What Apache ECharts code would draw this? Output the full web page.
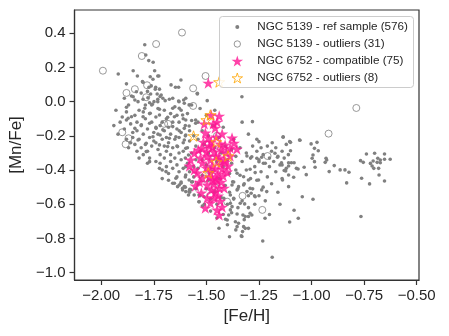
<!DOCTYPE html>
<html>
<head>
<meta charset="utf-8">
<script src="https://cdn.jsdelivr.net/npm/echarts@6/dist/echarts.min.js"></script>
<style>html,body{margin:0;padding:0;background:#fff}#c{width:449px;height:336px}</style>
</head>
<body>
<div id="c"></div>
<script>
// ---- data ([Fe/H], [Mn/Fe]) ----
const legendNames = ['NGC 5139 - ref sample (576)', 'NGC 5139 - outliers (31)', 'NGC 6752 - compatible (75)', 'NGC 6752 - outliers (8)'];
const xTicks = [-2.0, -1.75, -1.5, -1.25, -1.0, -0.75, -0.5];
const yTicks = [-1.0, -0.8, -0.6, -0.4, -0.2, 0.0, 0.2, 0.4];

const refSample = [
[-1.793,0.333],[-1.788,0.273],[-1.774,0.240],[-1.753,0.230],[-1.919,0.162],[-1.848,0.181],[-1.828,0.150],[-1.746,0.181],[-1.731,0.150],[-1.801,0.113],[-1.754,0.131],[-1.880,0.104],[-1.762,0.092],[-1.743,0.073],[-1.856,0.033],[-1.825,0.000],[-1.765,0.045],[-1.734,0.045],[-1.715,0.039],[-1.770,-0.006],[-1.749,0.000],[-1.731,0.000],[-1.696,0.006],[-1.880,-0.033],
[-1.804,0.117],[-1.767,0.146],[-1.726,0.150],[-1.773,0.084],[-1.741,0.084],[-1.723,0.073],[-1.668,0.098],[-1.647,0.084],[-1.632,0.084],[-1.621,0.127],[-1.543,0.049],[-1.496,0.006],[-1.848,0.029],[-1.833,0.058],[-1.801,0.014],[-1.778,0.023],[-1.757,-0.015],[-1.731,0.014],[-1.707,0.020],[-1.676,0.014],[-1.632,0.004],[-1.605,-0.009],[-1.793,-0.039],[-1.723,-0.044],[-1.660,-0.039],[-1.629,-0.039],[-1.872,-0.097],[-1.856,-0.088],[-1.880,-0.107],[-1.801,-0.088],[-1.767,-0.068],[-1.723,-0.078],[-1.684,-0.091],[-1.652,-0.088],[-1.613,-0.078],[-1.598,-0.107],[-1.582,-0.142],[-1.551,-0.126],[-1.840,-0.156],[-1.809,-0.136],[-1.770,-0.126],[-1.739,-0.156],[-1.707,-0.165],[-1.660,-0.146],[-1.629,-0.170],[-1.605,-0.156],[-1.754,-0.205],[-1.720,-0.195],[-1.676,-0.214],[-1.645,-0.205],[-1.598,-0.195],[-1.825,-0.224],[-1.786,-0.243],[-1.723,-0.253],[-1.684,-0.263],[-1.637,-0.263],
[-1.331,0.029],[-1.608,0.010],[-1.582,-0.019],[-1.543,0.045],[-1.598,0.020],[-1.551,-0.107],[-1.605,-0.224],[-1.598,-0.273],[-1.585,-0.312],[-1.598,-0.380],[-1.598,-0.429],[-1.582,-0.458],[-1.605,-0.497],[-1.574,-0.516],[-1.535,-0.546],
[-1.786,-0.292],[-1.770,-0.351],[-1.723,-0.390],[-1.692,-0.409],[-1.645,-0.448],[-1.613,-0.506],[-1.582,-0.526],[-1.558,-0.546],[-1.535,-0.585],[-1.519,-0.610],[-1.660,-0.477],[-1.629,-0.487],[-1.652,-0.477],[-1.637,-0.497],[-1.613,-0.516],[-1.598,-0.526],[-1.585,-0.546],[-1.579,-0.512],[-1.621,-0.477],[-1.566,-0.468],
[-1.281,-0.117],[-1.135,-0.208],[-1.250,-0.234],[-1.187,-0.240],[-1.104,-0.234],[-1.057,-0.224],[-1.307,-0.318],[-1.284,-0.322],[-1.260,-0.331],[-1.237,-0.325],[-1.250,-0.351],[-1.229,-0.360],[-1.174,-0.302],[-1.162,-0.325],[-1.143,-0.357],[-1.109,-0.376],[-1.096,-0.357],[-1.130,-0.403],[-1.072,-0.390],[-1.292,-0.395],[-1.268,-0.415],[-1.354,-0.419],[-1.323,-0.439],[-1.300,-0.458],[-1.252,-0.458],[-1.378,-0.487],[-1.347,-0.497],[-1.271,-0.551],[-1.417,-0.565],[-1.386,-0.633],[-1.354,-0.657],[-1.326,-0.663],[-1.300,-0.672],[-1.347,-0.711],[-1.323,-0.731],[-1.334,-0.785],
[-1.375,-0.468],[-1.323,-0.487],[-1.307,-0.526],[-1.287,-0.536],[-1.268,-0.556],[-1.237,-0.516],[-1.213,-0.526],[-1.354,-0.516],[-1.370,-0.565],[-1.339,-0.594],[-1.318,-0.598],[-1.386,-0.594],[-1.378,-0.614],[-1.292,-0.653],[-1.284,-0.663],[-1.315,-0.672],[-1.394,-0.663],[-1.409,-0.688],[-1.362,-0.702],[-1.401,-0.692],[-1.221,-0.682],[-1.354,-0.731],[-1.315,-0.741],[-1.300,-0.741],[-1.328,-0.760],[-1.331,-0.789],[-1.232,-0.815],[-1.187,-0.910],[-1.535,-0.585],[-1.511,-0.556],[-1.386,-0.546],[-1.292,-0.507],
[-1.135,-0.205],[-1.100,-0.238],[-1.055,-0.226],[-1.002,-0.247],[-0.974,-0.238],[-0.986,-0.273],[-0.968,-0.287],[-0.993,-0.312],[-0.997,-0.331],[-0.986,-0.351],[-0.983,-0.384],[-0.931,-0.331],[-0.935,-0.355],[-0.928,-0.341],[-0.892,-0.374],[-0.916,-0.409],[-0.864,-0.399],[-0.841,-0.399],[-0.822,-0.413],[-0.833,-0.475],[-1.100,-0.287],[-1.140,-0.370],[-1.109,-0.357],[-1.083,-0.357],[-1.123,-0.405],[-1.109,-0.429],[-1.085,-0.442],[-1.064,-0.394],[-1.035,-0.384],[-1.025,-0.427],[-1.138,-0.458],[-1.109,-0.497],[-1.044,-0.556],[-0.993,-0.571],[-1.083,-0.635],[-1.063,-0.682],[-1.104,-0.704],[-0.765,-0.672],
[-0.739,-0.306],[-0.700,-0.302],[-0.653,-0.306],[-0.767,-0.345],[-0.754,-0.355],[-0.720,-0.361],[-0.707,-0.347],[-0.685,-0.331],[-0.673,-0.341],[-0.688,-0.355],[-0.673,-0.357],[-0.653,-0.337],[-0.626,-0.337],[-0.712,-0.376],[-0.704,-0.390],[-0.681,-0.390],[-0.762,-0.448],[-0.679,-0.429],[-0.724,-0.481],[-0.653,-0.464],
[-1.93,-0.05],[-1.91,-0.12],[-1.89,-0.16],[-1.92,-0.19],[-1.88,-0.22],[-1.86,-0.24],[-1.90,-0.09],[-1.87,-0.02],[-1.86,-0.13],[-1.88,-0.06],[-1.85,-0.18],[-1.94,-0.14],[-1.87,-0.27],[-1.85,-0.21],[-1.89,0.02],
[-1.84,-0.08],[-1.83,-0.17],[-1.82,-0.22],[-1.81,-0.27],[-1.80,-0.31],[-1.83,-0.12],[-1.82,-0.05],[-1.81,-0.14],[-1.80,-0.19],[-1.79,-0.25],[-1.78,-0.29],[-1.77,-0.33],[-1.84,-0.25],[-1.83,-0.29],[-1.79,-0.10],[-1.78,-0.16],[-1.77,-0.21],[-1.76,-0.26],[-1.80,-0.06],[-1.76,-0.12],[-1.78,-0.36],[-1.82,-0.33],[-1.76,-0.02],[-1.81,0.05],[-1.79,-0.02],[-1.77,-0.07],[-1.75,-0.18],[-1.75,-0.23],[-1.84,0.01],[-1.78,0.06],
[-1.74,-0.09],[-1.74,-0.15],[-1.73,-0.19],[-1.73,-0.28],[-1.72,-0.31],[-1.72,-0.36],[-1.71,-0.12],[-1.71,-0.22],[-1.71,-0.40],[-1.70,-0.05],[-1.70,-0.17],[-1.70,-0.26],[-1.70,-0.33],[-1.69,-0.10],[-1.69,-0.21],[-1.69,-0.29],[-1.69,-0.38],[-1.68,-0.15],[-1.68,-0.24],[-1.68,-0.42],[-1.67,-0.07],[-1.67,-0.19],[-1.67,-0.31],[-1.67,-0.35],[-1.66,-0.12],[-1.66,-0.27],[-1.66,-0.39],[-1.65,-0.03],[-1.65,-0.22],[-1.65,-0.33],[-1.74,-0.24],[-1.73,-0.04],[-1.72,-0.14],[-1.72,0.03],[-1.66,0.02],[-1.71,-0.45],[-1.74,-0.35],[-1.68,-0.46],
[-1.64,-0.08],[-1.64,-0.16],[-1.64,-0.26],[-1.64,-0.37],[-1.64,-0.44],[-1.63,-0.12],[-1.63,-0.21],[-1.63,-0.30],[-1.63,-0.41],[-1.62,-0.05],[-1.62,-0.18],[-1.62,-0.34],[-1.62,-0.47],[-1.61,-0.10],[-1.61,-0.24],[-1.61,-0.29],[-1.61,-0.39],[-1.60,-0.14],[-1.60,-0.20],[-1.60,-0.33],[-1.60,-0.44],[-1.60,-0.50],[-1.59,-0.07],[-1.59,-0.27],[-1.59,-0.36],[-1.58,-0.17],[-1.58,-0.23],[-1.58,-0.41],[-1.58,-0.53],[-1.57,-0.11],[-1.57,-0.30],[-1.57,-0.47],[-1.56,-0.20],[-1.56,-0.38],[-1.56,-0.44],[-1.55,-0.26],[-1.55,-0.34],[-1.55,-0.51],[-1.63,0.00],[-1.57,-0.02],
[-1.54,-0.12],[-1.54,-0.22],[-1.54,-0.39],[-1.54,-0.48],[-1.53,-0.29],[-1.53,-0.55],[-1.52,-0.17],[-1.52,-0.34],[-1.52,-0.43],[-1.51,-0.25],[-1.51,-0.60],[-1.50,-0.08],[-1.50,-0.37],[-1.50,-0.51],[-1.49,-0.20],[-1.49,-0.30],[-1.49,-0.46],[-1.48,-0.57],[-1.48,-0.64],[-1.47,-0.14],[-1.47,-0.41],[-1.46,-0.27],[-1.46,-0.53],[-1.45,-0.35],[-1.45,-0.60],[-1.45,-0.68],[-1.53,-0.04],[-1.46,-0.05],
[-1.44,-0.21],[-1.44,-0.45],[-1.43,-0.30],[-1.43,-0.56],[-1.42,-0.38],[-1.42,-0.66],[-1.41,-0.26],[-1.41,-0.49],[-1.40,-0.34],[-1.40,-0.60],[-1.40,-0.72],[-1.39,-0.42],[-1.39,-0.53],[-1.38,-0.28],[-1.38,-0.36],[-1.38,-0.65],[-1.37,-0.47],[-1.37,-0.57],[-1.36,-0.32],[-1.36,-0.40],[-1.36,-0.75],[-1.35,-0.51],[-1.35,-0.62],[-1.42,-0.15],[-1.37,-0.22],[-1.44,-0.74],[-1.39,-0.79],
[-1.34,-0.27],[-1.34,-0.43],[-1.33,-0.35],[-1.33,-0.58],[-1.32,-0.48],[-1.32,-0.69],[-1.31,-0.30],[-1.31,-0.40],[-1.30,-0.55],[-1.30,-0.62],[-1.29,-0.33],[-1.29,-0.45],[-1.28,-0.26],[-1.28,-0.51],[-1.27,-0.38],[-1.27,-0.60],[-1.26,-0.29],[-1.26,-0.46],[-1.25,-0.34],[-1.25,-0.55],[-1.33,-0.12],[-1.30,-0.19],[-1.26,-0.22],
[-1.24,-0.27],[-1.24,-0.41],[-1.23,-0.31],[-1.23,-0.50],[-1.22,-0.36],[-1.22,-0.58],[-1.21,-0.26],[-1.21,-0.44],[-1.20,-0.33],[-1.20,-0.38],[-1.19,-0.29],[-1.19,-0.48],[-1.18,-0.35],[-1.17,-0.27],[-1.17,-0.41],[-1.16,-0.32],[-1.16,-0.53],[-1.15,-0.37],[-1.14,-0.29],[-1.14,-0.45],[-1.13,-0.33],[-1.12,-0.39],[-1.12,-0.25],[-1.11,-0.31],[-1.20,-0.66],[-1.15,-0.60]
];

const outliers5139 = [
[-1.739,0.337],[-1.616,0.404],[-1.992,0.181],[-1.807,0.267],[-1.504,0.150],[-1.563,0.078],[-1.840,0.073],[-1.880,0.051],[-1.782,0.096],[-1.786,0.026],[-1.563,-0.025],[-1.900,-0.179],[-1.870,-0.214],[-1.884,-0.249],[-1.701,-0.130],[-1.682,-0.130],[-0.787,-0.037],[-0.919,-0.187],[-1.209,-0.318],[-1.328,-0.551],[-1.401,-0.585],[-1.234,-0.633],
[-1.47,-0.30],[-1.45,-0.20],[-1.49,-0.40],[-1.46,-0.50],[-1.44,-0.35],[-1.50,-0.25],[-1.48,-0.55],[-1.42,-0.28],[-1.51,-0.45]
];

const compatible6752 = [
[-1.491,0.109],[-1.477,-0.078],[-1.439,-0.084],[-1.458,-0.154],[-1.505,-0.183],[-1.425,-0.189],[-1.514,-0.236],[-1.477,-0.236],[-1.411,-0.253],[-1.369,-0.242],
[-1.355,-0.277],[-1.387,-0.271],[-1.500,-0.294],[-1.463,-0.294],[-1.557,-0.300],[-1.481,-0.341],[-1.439,-0.329],[-1.411,-0.353],[-1.519,-0.358],[-1.580,-0.376],
[-1.543,-0.417],[-1.458,-0.394],[-1.425,-0.394],[-1.486,-0.440],[-1.449,-0.458],[-1.463,-0.481],[-1.439,-0.505],[-1.552,-0.493],[-1.458,-0.528],[-1.496,-0.563],
[-1.463,-0.563],[-1.505,-0.622],[-1.449,-0.633],[-1.425,-0.616],[-1.439,-0.663],[-1.491,-0.212],[-1.453,-0.206],[-1.434,-0.247],[-1.472,-0.265],[-1.519,-0.271],
[-1.406,-0.294],[-1.496,-0.318],[-1.453,-0.318],[-1.387,-0.318],[-1.528,-0.329],[-1.434,-0.364],[-1.472,-0.376],[-1.500,-0.388],[-1.397,-0.376],[-1.557,-0.399],
[-1.481,-0.411],[-1.444,-0.423],[-1.420,-0.434],[-1.519,-0.446],[-1.472,-0.458],[-1.430,-0.470],[-1.496,-0.487],[-1.416,-0.505],[-1.477,-0.516],[-1.524,-0.534],
[-1.444,-0.551],[-1.481,-0.592],[-1.434,-0.581],[-1.575,-0.341],[-1.538,-0.282],[-1.378,-0.212],[-1.467,-0.130],[-1.449,-0.119],[-1.416,-0.341],[-1.510,-0.130],
[-1.430,-0.282],[-1.486,-0.259],[-1.458,-0.446],[-1.533,-0.470],[-1.402,-0.411]
];

const outliers6752 = [
[-1.439,0.115],[-1.500,-0.107],[-1.481,-0.078],[-1.561,-0.201],[-1.453,-0.236],[-1.397,-0.318],[-1.453,-0.353],[-1.491,-0.417]
];

// ---- rendering ----
const FONT = '"Liberation Sans", Arial, Helvetica, sans-serif';
const INK = '#262626';
const GRAY = '#808080';
const PINK = '#ff1493';
const ORANGE = '#ffa500';
const STAR = 'path://M100,0 L122.45,69.1 L195.1,69.1 L136.33,111.8 L158.8,180.9 L100,138.2 L41.2,180.9 L63.67,111.8 L4.9,69.1 L77.55,69.1 Z';
// legend icons: invisible moveTo corners give each icon its own scale inside the shared legend box
const ICON_DOT = 'path://M0,0 M100,100 M32,50 A18,18 0 1,1 68,50 A18,18 0 1,1 32,50 Z';
const ICON_RING = 'path://M0,0 M100,100 M21,50 A29,29 0 1,1 79,50 A29,29 0 1,1 21,50 Z';
const ICON_STAR_S = 'path://M-5,-9 M205,190 M100,0 L122.45,69.1 L195.1,69.1 L136.33,111.8 L158.8,180.9 L100,138.2 L41.2,180.9 L63.67,111.8 L4.9,69.1 L77.55,69.1 Z';
const fmt = (v, d) => (v < -1e-9 ? '\u2212' : '') + Math.abs(v).toFixed(d);

const chart = echarts.init(document.getElementById('c'), null, {renderer: 'canvas'});

chart.setOption({
  animation: false,
  backgroundColor: '#fff',
  grid: {left: 71, right: 30, top: 10, bottom: 56, show: true, borderColor: '#333', borderWidth: 1.2, backgroundColor: 'transparent'},
  xAxis: {
    type: 'value', min: -2.127, max: -0.489,
    name: '[Fe/H]', nameLocation: 'middle', nameGap: 27,
    nameTextStyle: {fontFamily: FONT, fontSize: 17, color: INK},
    axisLine: {show: true, onZero: false, lineStyle: {color: '#333', width: 1.2}},
    axisTick: {show: true, inside: false, length: 5, customValues: xTicks, lineStyle: {color: '#333', width: 1.2}},
    axisLabel: {customValues: xTicks, margin: 8, fontFamily: FONT, fontSize: 15, color: INK, formatter: v => fmt(v, 2)},
    splitLine: {show: false}
  },
  yAxis: {
    type: 'value', min: -1.043, max: 0.536,
    name: '[Mn/Fe]', nameLocation: 'middle', nameGap: 46,
    nameTextStyle: {fontFamily: FONT, fontSize: 17, color: INK},
    axisLine: {show: true, onZero: false, lineStyle: {color: '#333', width: 1.2}},
    axisTick: {show: true, inside: false, length: 5, customValues: yTicks, lineStyle: {color: '#333', width: 1.2}},
    axisLabel: {customValues: yTicks, margin: 9, fontFamily: FONT, fontSize: 15, color: INK, formatter: v => fmt(v, 1)},
    splitLine: {show: false}
  },
  legend: {
    left: 231, top: 20, padding: 0, orient: 'vertical', align: 'left',
    itemWidth: 30, itemHeight: 11, itemGap: 3, selectedMode: false, z: 20,
    textStyle: {fontFamily: FONT, fontSize: 11.7, lineHeight: 14, color: INK},
    data: [
      {name: legendNames[0], icon: ICON_DOT, itemStyle: {color: GRAY, borderWidth: 0}},
      {name: legendNames[1], icon: ICON_RING, itemStyle: {color: 'rgba(0,0,0,0)', borderColor: GRAY, borderWidth: 1}},
      {name: legendNames[2], icon: STAR, itemStyle: {color: PINK, borderWidth: 0}},
      {name: legendNames[3], icon: ICON_STAR_S, itemStyle: {color: 'rgba(0,0,0,0)', borderColor: ORANGE, borderWidth: 1}}
    ]
  },
  graphic: [{
    type: 'rect', z: 10, silent: true,
    shape: {x: 219.5, y: 16.5, width: 194, height: 71, r: 3},
    style: {fill: 'rgba(255,255,255,0.85)', stroke: '#cccccc', lineWidth: 1}
  }],
  series: [
    {name: legendNames[0], type: 'scatter', data: refSample, symbol: 'circle', symbolSize: 3.6, itemStyle: {color: GRAY, opacity: 1}, silent: true, z: 2},
    {name: legendNames[1], type: 'scatter', data: outliers5139, symbol: 'circle', symbolSize: 7, itemStyle: {color: 'rgba(0,0,0,0)', borderColor: GRAY, borderWidth: 1}, silent: true, z: 3},
    {name: legendNames[2], type: 'scatter', data: compatible6752, symbol: STAR, symbolSize: 12, symbolKeepAspect: true, itemStyle: {color: PINK}, silent: true, z: 4},
    {name: legendNames[3], type: 'scatter', data: outliers6752, symbol: STAR, symbolSize: 11, symbolKeepAspect: true, itemStyle: {color: 'rgba(0,0,0,0)', borderColor: ORANGE, borderWidth: 1}, silent: true, z: 5}
  ]
});
</script>
</body>
</html>
